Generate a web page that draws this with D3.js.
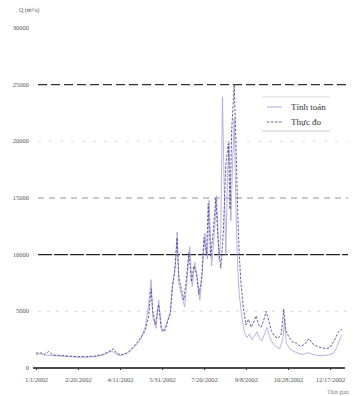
<!DOCTYPE html>
<html>
<head>
<meta charset="utf-8">
<script src="https://cdn.jsdelivr.net/npm/d3@7"></script>
<style>
body { margin: 0; background: #fff; }
text { font-family: "Liberation Serif", "DejaVu Serif", serif; }
</style>
</head>
<body>
<script>
//size of the picture
var w = 359;
var h = 396;

//x ticks (every 50 days) and y ticks
var xTickLabels = ["1/1/2002", "2/20/2002", "4/11/2002", "5/31/2002", "7/20/2002", "9/8/2002", "10/28/2002", "12/17/2002"];
var yTicks = [0, 5000, 10000, 15000, 20000, 25000, 30000];

//Thuc do (measured) - day of year and discharge
var measuredDays = [0, 5, 10, 15, 20, 30, 40, 50, 60, 70, 80, 88, 92, 96, 100, 105, 110, 115, 120, 125,
    130, 134, 137, 139, 142, 146, 149, 153, 157, 160, 162, 165, 168, 170, 173, 176, 179, 182, 185, 188,
    191, 194, 197, 200, 203, 205, 208, 211, 214, 217, 220, 223, 226, 229, 231, 233, 236, 238, 240, 242,
    244, 247, 250, 253, 256, 259, 262, 265, 268, 271, 274, 277, 280, 284, 288, 292, 295, 297, 300, 305,
    310, 315, 320, 325, 330, 335, 340, 345, 350, 355, 360, 364];
var measuredQ = [1300, 1350, 1200, 1450, 1150, 1100, 1050, 1000, 1000, 1050, 1200, 1500, 1700, 1300, 1150, 1200, 1400, 1800, 2200, 2700,
    3300, 4500, 7000, 5000, 3800, 5600, 3500, 3200, 4200, 4800, 7000, 8500, 11500, 8000, 7000, 6000, 7800, 10200, 7600, 9000,
    8300, 6500, 7800, 11500, 10000, 14500, 9800, 12000, 15000, 11000, 8800, 12000, 18000, 19800, 14000, 21000, 25000, 20000, 14000, 10000,
    7500, 5200, 3800, 4300, 3600, 4000, 4600, 3800, 3600, 4200, 5000, 4200, 3300, 2800, 2600, 3000, 5200, 3400, 2900, 2300,
    2200, 1900, 2100, 2600, 2100, 1900, 1800, 1700, 1800, 2400, 3200, 3400];

//Tinh toan (computed) - day of year and discharge
var computedDays = [0, 5, 10, 20, 30, 40, 50, 60, 70, 80, 90, 95, 100, 110, 118, 125, 130, 134, 137, 139,
    143, 146, 150, 155, 160, 163, 166, 168, 170, 174, 177, 180, 183, 186, 189, 192, 195, 198, 201, 204,
    206, 209, 212, 215, 218, 220, 222, 224, 226, 228, 230, 232, 234, 236, 238, 240, 242, 245, 248, 251,
    254, 257, 260, 263, 266, 269, 272, 275, 278, 281, 285, 290, 294, 296, 298, 302, 306, 312, 318, 324,
    330, 336, 342, 348, 354, 358, 362, 364];
var computedQ = [1200, 1250, 1150, 1100, 1050, 1000, 950, 950, 1000, 1150, 1500, 1250, 1100, 1350, 1900, 2600, 3600, 5500, 7800, 4500,
    3500, 6000, 3200, 3700, 5000, 7500, 9000, 12000, 7500, 6200, 5400, 8000, 10700, 7200, 9300, 8000, 6000, 8400, 11900, 9600,
    14800, 9000, 11500, 15200, 9500, 12000, 23900, 16000, 10000, 17000, 20000, 13000, 18000, 22000, 14000, 9000, 6500, 4500, 3200, 2700,
    3000, 2500, 2800, 3200, 2600, 2400, 3000, 3600, 2800, 2300, 1900, 1700, 2600, 4400, 2200, 1700, 1500, 1300, 1200, 1350,
    1200, 1100, 1100, 1150, 1300, 1800, 2600, 2900];

var seriesNames = ["Tính toán", "Thực đo"];
var seriesColors = ["#a99de0", "#55499a"];

var start = new Date(2002, 0, 1);
function dayToDate(d) { return d3.timeDay.offset(start, d); }

var parseTick = d3.timeParse("%m/%d/%Y");

//Scales
var x = d3.scaleTime()
    .domain([start, new Date(2002, 11, 17)])
    .range([36, 330]);

var y = d3.scaleLinear()
    .domain([0, 30000])
    .range([368, 28]);

var svg = d3.select("body")
    .append("svg")
    .attr("width", w)
    .attr("height", h);

//grid lines - styles differ as in the scan
var gridStyle = {
    5000: { stroke: "#cfcfd4", dash: "3,6", width: 0.8 },
    10000: { stroke: "#222", dash: "14,2", width: 1.3 },
    15000: { stroke: "#8a8a90", dash: "6,5", width: 0.9 },
    20000: { stroke: "#d6d6da", dash: "3,8", width: 0.8 },
    25000: { stroke: "#333", dash: "9,4", width: 1.1 }
};

svg.append("g")
    .selectAll("line")
    .data(yTicks.filter(function(d) { return d > 0 && d < 30000; }))
    .enter()
    .append("line")
    .attr("x1", 38)
    .attr("x2", 348)
    .attr("y1", function(d) { return y(d); })
    .attr("y2", function(d) { return y(d); })
    .attr("stroke", function(d) { return gridStyle[d].stroke; })
    .attr("stroke-width", function(d) { return gridStyle[d].width; })
    .attr("stroke-dasharray", function(d) { return gridStyle[d].dash; });

//y tick labels (no axis line)
svg.append("g")
    .selectAll("text")
    .data(yTicks)
    .enter()
    .append("text")
    .attr("x", 29)
    .attr("y", function(d) { return y(d) + 2; })
    .attr("text-anchor", "end")
    .attr("font-size", 6.5)
    .attr("fill", "#555")
    .text(function(d) { return d; });

//lines
var line = d3.line()
    .x(function(d) { return x(d.date); })
    .y(function(d) { return y(d.q); });

var computed = computedDays.map(function(d, i) { return { date: dayToDate(d), q: computedQ[i] }; });
var measured = measuredDays.map(function(d, i) { return { date: dayToDate(d), q: measuredQ[i] }; });

svg.append("path")
    .datum(computed)
    .attr("fill", "none")
    .attr("stroke", seriesColors[0])
    .attr("stroke-width", 0.8)
    .attr("d", line);

svg.append("path")
    .datum(measured)
    .attr("fill", "none")
    .attr("stroke", seriesColors[1])
    .attr("stroke-width", 0.9)
    .attr("stroke-dasharray", "2.5,1.5")
    .attr("d", line);

//x axis
var xAxis = d3.axisBottom(x)
    .tickValues(xTickLabels.map(parseTick))
    .tickSize(2)
    .tickFormat(function(d, i) { return xTickLabels[i]; });

var gx = svg.append("g")
    .attr("transform", "translate(0,368)")
    .call(xAxis);

gx.select(".domain")
    .attr("d", "M33,0H345")
    .attr("stroke", "#111")
    .attr("stroke-width", 1.6);

gx.selectAll(".tick line").attr("stroke", "#333");

gx.selectAll(".tick text")
    .attr("y", 9)
    .attr("font-size", 6.5)
    .attr("fill", "#555")
    .style("font-family", "Liberation Serif, serif");

//axis titles
svg.append("text")
    .attr("x", 19)
    .attr("y", 12)
    .attr("font-size", 6)
    .attr("fill", "#555")
    .text("Q (m³/s)");

svg.append("text")
    .attr("x", 338)
    .attr("y", 394)
    .attr("text-anchor", "middle")
    .attr("font-size", 5.5)
    .attr("fill", "#777")
    .text("Thời gian");

//legend
var legend = svg.append("g");

legend.append("line")
    .attr("x1", 262).attr("x2", 330)
    .attr("y1", 97).attr("y2", 97)
    .attr("stroke", "#ccc").attr("stroke-width", 0.8);

legend.append("line")
    .attr("x1", 262).attr("x2", 330)
    .attr("y1", 131).attr("y2", 131)
    .attr("stroke", "#bbb").attr("stroke-width", 0.8);

var legendItems = legend.selectAll(".item")
    .data(seriesNames)
    .enter()
    .append("g")
    .attr("transform", function(d, i) { return "translate(0," + (107 + i * 15) + ")"; });

legendItems.append("line")
    .attr("x1", 267)
    .attr("x2", 282)
    .attr("stroke", function(d, i) { return seriesColors[i]; })
    .attr("stroke-width", 0.9)
    .attr("stroke-dasharray", function(d, i) { return i === 0 ? null : "2.5,1.5"; });

legendItems.append("text")
    .attr("x", 291)
    .attr("y", 3)
    .attr("font-size", 9)
    .attr("fill", "#333")
    .text(function(d) { return d; });
</script>
</body>
</html>
